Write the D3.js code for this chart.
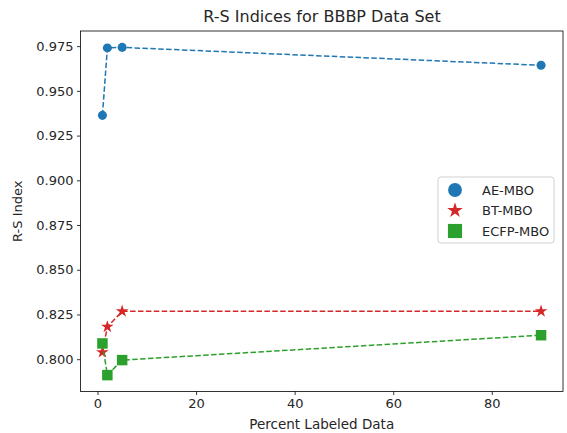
<!DOCTYPE html>
<html>
<head>
<meta charset="utf-8">
<script src="https://cdn.jsdelivr.net/npm/d3@7"></script>
<style>
  body { margin: 0; background: #fff; }
  text { font-family: "DejaVu Sans", sans-serif; fill: #262626; }
</style>
</head>
<body>
<div id="chart"></div>
<script>
var percents = [1, 2, 5, 90]
var aeMbo = [0.9363, 0.9740, 0.9743, 0.9643]
var btMbo = [0.8039, 0.8181, 0.8268, 0.8268]
var ecfpMbo = [0.8088, 0.7911, 0.7995, 0.8134]
var seriesNames = ["AE-MBO", "BT-MBO", "ECFP-MBO"]
var yTicks = [0.800, 0.825, 0.850, 0.875, 0.900, 0.925, 0.950, 0.975]
var xTicks = [0, 20, 40, 60, 80]

var W = 567, H = 433
var margin = {top: 31, right: 4, bottom: 41.5, left: 80.5}
var width = W - margin.left - margin.right,
  height = H - margin.top - margin.bottom

var svg = d3.select("#chart").append("svg")
  .attr("width", W)
  .attr("height", H)

var g = svg.append("g")
  .attr("transform", "translate(" + margin.left + "," + margin.top + ")")

// matplotlib-like 5% padding
var xMin = d3.min(percents), xMax = d3.max(percents)
var xPad = (xMax - xMin) * 0.05
var x = d3.scaleLinear().domain([xMin - xPad, xMax + xPad]).range([0, width])

var allY = aeMbo.concat(btMbo, ecfpMbo)
var yMin = d3.min(allY), yMax = d3.max(allY)
var yPad = (yMax - yMin) * 0.05
var y = d3.scaleLinear().domain([yMin - yPad, yMax + yPad]).range([height, 0])

// axes
var xAxis = g.append("g")
  .attr("transform", "translate(0," + height + ")")
  .call(d3.axisBottom(x).tickValues(xTicks).tickSize(3.5).tickPadding(3.5))
var yAxis = g.append("g")
  .call(d3.axisLeft(y).tickValues(yTicks).tickFormat(d3.format(".3f")).tickSize(3.5).tickPadding(3.5))

;[xAxis, yAxis].forEach(a => {
  a.select(".domain").remove()
  a.selectAll("line").attr("stroke", "#000").attr("stroke-width", 0.8)
  a.selectAll("text").attr("font-size", 13).attr("font-family", "DejaVu Sans").attr("fill", "#262626")
})

g.append("rect")
  .attr("width", width)
  .attr("height", height)
  .attr("fill", "none")
  .attr("stroke", "#000")
  .attr("stroke-width", 0.8)

var series = [
  {name: seriesNames[0], vals: aeMbo, color: "#1f77b4", sym: d3.symbolCircle, size: 64, legSize: 150},
  {name: seriesNames[1], vals: btMbo, color: "#d62728", sym: d3.symbolStar, size: 50, legSize: 75},
  {name: seriesNames[2], vals: ecfpMbo, color: "#2ca02c", sym: d3.symbolSquare, size: 110, legSize: 200}
]

var line = d3.line()
  .x(d => x(d[0]))
  .y(d => y(d[1]))

series.forEach(s => {
  var pts = percents.map((p, i) => [p, s.vals[i]])
  g.append("path")
    .datum(pts)
    .attr("d", line)
    .attr("fill", "none")
    .attr("stroke", s.color)
    .attr("stroke-width", 1.5)
    .attr("stroke-dasharray", "5.5,2.4")

  g.selectAll(null)
    .data(pts)
    .enter()
    .append("path")
    .attr("transform", d => "translate(" + x(d[0]) + "," + y(d[1]) + ")")
    .attr("d", d3.symbol().type(s.sym).size(s.size))
    .attr("fill", s.color)
})

// legend
var leg = svg.append("g").attr("transform", "translate(438,177)")
leg.append("rect")
  .attr("width", 116)
  .attr("height", 66)
  .attr("rx", 3)
  .attr("fill", "#fff")
  .attr("fill-opacity", 0.8)
  .attr("stroke", "#d0d0d0")
  .attr("stroke-width", 1)

series.forEach((s, i) => {
  var yy = 13 + i * 20.5
  leg.append("path")
    .attr("transform", "translate(17," + yy + ")")
    .attr("d", d3.symbol().type(s.sym).size(s.legSize))
    .attr("fill", s.color)
  leg.append("text")
    .attr("x", 44)
    .attr("y", yy)
    .attr("dy", "0.35em")
    .attr("font-size", 13)
    .text(s.name)
})

// titles
svg.append("text")
  .attr("x", 322)
  .attr("y", 21.5)
  .attr("text-anchor", "middle")
  .attr("font-size", 16)
  .text("R-S Indices for BBBP Data Set")

svg.append("text")
  .attr("x", margin.left + width / 2)
  .attr("y", 429)
  .attr("text-anchor", "middle")
  .attr("font-size", 13.5)
  .text("Percent Labeled Data")

svg.append("text")
  .attr("transform", "translate(22," + (margin.top + height / 2) + ") rotate(-90)")
  .attr("text-anchor", "middle")
  .attr("font-size", 13)
  .text("R-S Index")
</script>
</body>
</html>
